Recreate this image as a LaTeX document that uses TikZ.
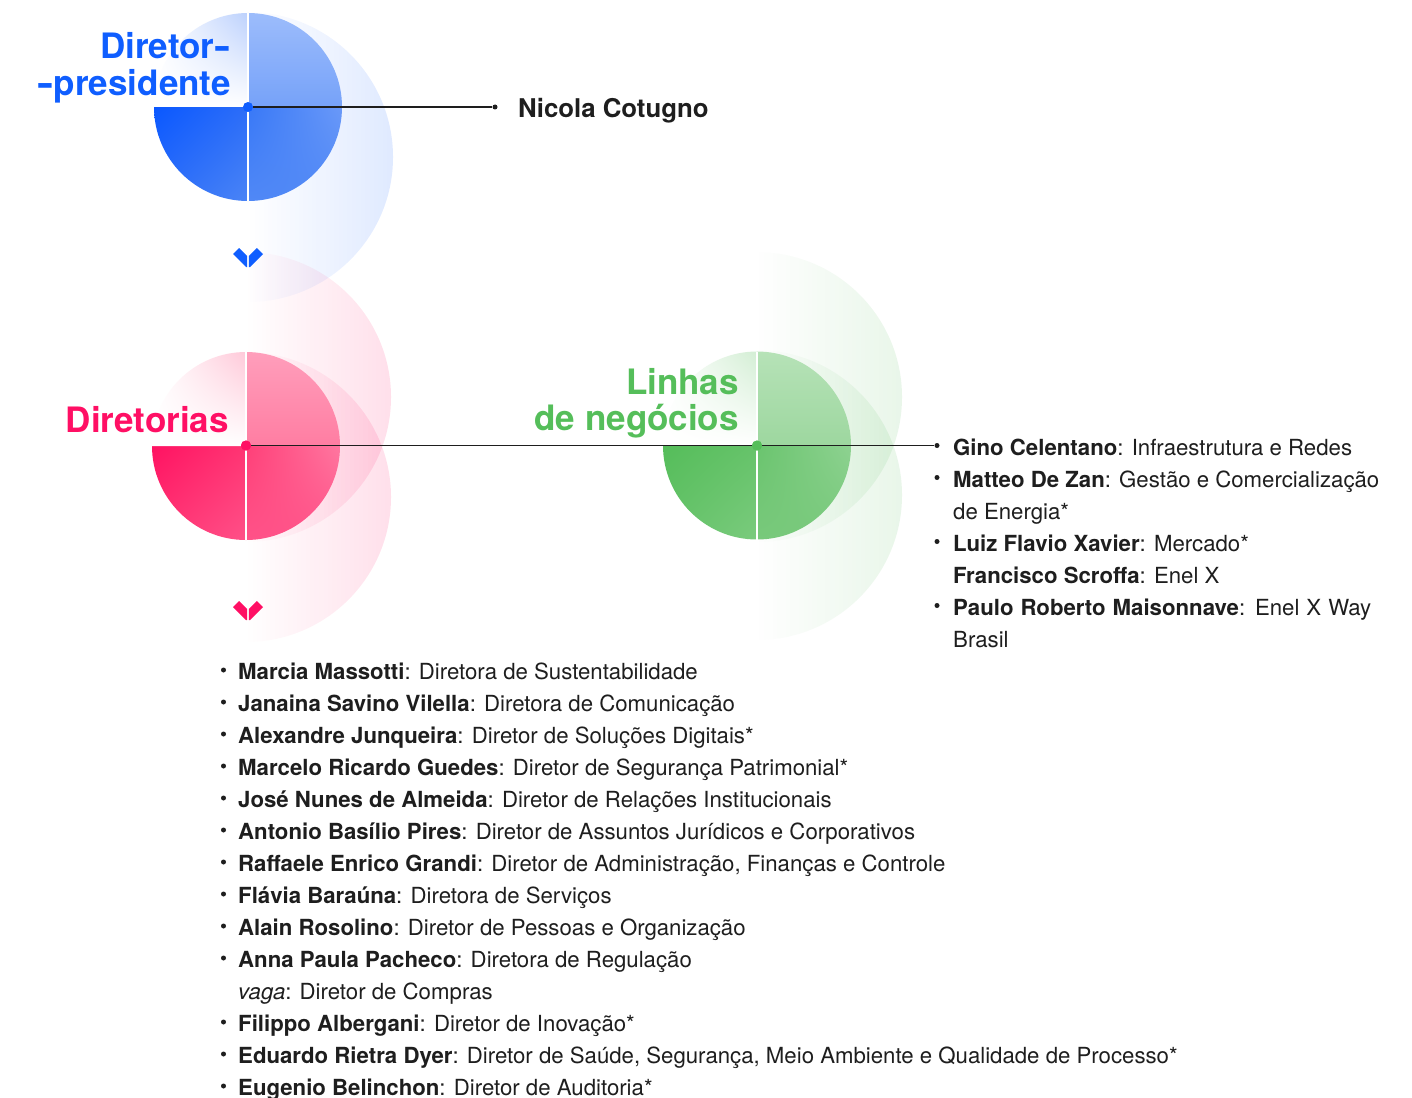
\documentclass[tikz,border=0pt]{standalone}
\usepackage{fontspec}
\setmainfont{TeX Gyre Heros}
\usetikzlibrary{fadings,shadings}
\definecolor{eblue}{HTML}{0F5EFF}
\definecolor{epink}{HTML}{FF0F64}
\definecolor{egreen}{HTML}{55BE5A}
\definecolor{txt}{HTML}{1E1E1E}
% blue disc
\definecolor{bBLa}{HTML}{0A58FF}\definecolor{bBLb}{HTML}{2C6DF8}\definecolor{bBLc}{HTML}{4A84F6}
\definecolor{bBRa}{HTML}{3878F7}\definecolor{bBRb}{HTML}{5088F6}\definecolor{bBRc}{HTML}{6A99F8}
\definecolor{bTRa}{HTML}{9CBCFB}\definecolor{bTRb}{HTML}{76A2F9}
\definecolor{bTL}{HTML}{BCD1FD}
% pink disc
\definecolor{pBLa}{HTML}{FF1262}\definecolor{pBLb}{HTML}{FF3573}\definecolor{pBLc}{HTML}{FF5088}
\definecolor{pBRa}{HTML}{FF3F78}\definecolor{pBRb}{HTML}{FF5288}\definecolor{pBRc}{HTML}{FF77A0}
\definecolor{pTRa}{HTML}{FF9EBB}\definecolor{pTRb}{HTML}{FF7DA2}
\definecolor{pTL}{HTML}{FFC9D9}
% green disc
\definecolor{gBLa}{HTML}{55BD5A}\definecolor{gBLb}{HTML}{66C36A}\definecolor{gBLc}{HTML}{7ACB7D}
\definecolor{gBRa}{HTML}{6AC46E}\definecolor{gBRb}{HTML}{78C97B}\definecolor{gBRc}{HTML}{8ED291}
\definecolor{gTRa}{HTML}{B6E2B7}\definecolor{gTRb}{HTML}{9DD79F}
\definecolor{gTL}{HTML}{D3EED4}

\newcommand\orgdisc[3]{%
  \shade[upper left=#3BLa, upper right=#3BLb, lower left=#3BLb, lower right=#3BLc]
    (#1,#2) -- ++(-94,0) arc[start angle=180,end angle=90,radius=94] -- cycle;
  \shade[upper left=#3BRa, upper right=#3BRc, lower left=#3BRb, lower right=#3BRb]
    (#1,#2) -- ++(0,94) arc[start angle=90,end angle=0,radius=94] -- cycle;
  \shade[upper left=#3TRa, upper right=#3TRa, lower left=#3TRb, lower right=#3TRb]
    (#1,#2) -- ++(94,0) arc[start angle=0,end angle=-90,radius=94] -- cycle;
  \shade[upper left=white, upper right=#3TL, lower left=white, lower right=white]
    (#1,#2) -- ++(0,-94) arc[start angle=-90,end angle=-180,radius=94] -- cycle;
  \draw[white, line width=1.6pt] (#1,#2-94) -- (#1,#2+94);
}
\newcommand\chevron[3]{%
  \fill[#3] (#1-15,#2-4) -- (#1-8.8,#2-10) -- (#1-0.8,#2-2) -- (#1-0.8,#2+9) -- (#1-2,#2+9) -- cycle;
  \fill[#3] (#1+15,#2-4) -- (#1+8.8,#2-10) -- (#1+0.8,#2-2) -- (#1+0.8,#2+9) -- (#1+2,#2+9) -- cycle;
}
\newcommand\wdash{\scalebox{1.4}[1]{-}}
\tikzset{
  faint/.style={fill=#1, fill opacity=0.13, path fading=west},
  cdot/.style={circle, fill=#1, inner sep=0pt, minimum size=10pt},
  enddot/.style={circle, fill=txt, inner sep=0pt, minimum size=5pt},
  conn/.style={draw=txt, line width=1.1pt},
  head/.style={inner sep=0pt, font=\fontsize{35}{35}\selectfont\bfseries},
  pname/.style={inner sep=0pt, anchor=base west, text=txt, font=\fontsize{25.8}{26}\selectfont\bfseries},
  item/.style={inner sep=0pt, anchor=base west, text=txt, font=\fontsize{22.2}{26}\selectfont},
}
\begin{document}
\begin{tikzpicture}[x=1pt,y=-1pt]
\useasboundingbox (0,0) rectangle (1412,1097);
\fill[white] (0,0) rectangle (1412,1097);

% faint half discs
\fill[faint=eblue] (248,12) arc[start angle=-90,end angle=90,radius=145] -- cycle;
\fill[faint=epink] (246,252) arc[start angle=-90,end angle=90,radius=145] -- cycle;
\fill[faint=epink] (246,352) arc[start angle=-90,end angle=90,radius=145] -- cycle;
\fill[faint=egreen] (757,252) arc[start angle=-90,end angle=90,radius=145] -- cycle;
\fill[faint=egreen] (757,350) arc[start angle=-90,end angle=90,radius=145] -- cycle;

% main discs
\orgdisc{248}{107}{b}
\orgdisc{246}{446}{p}
\orgdisc{757}{445.5}{g}

% chevrons
\chevron{248}{258}{eblue}
\chevron{248}{611}{epink}

% nodes
\node[cdot=eblue] (bdot) at (248,107) {};
\node[enddot] (bend) at (495,107) {};
\node[cdot=epink] (pdot) at (246,445.5) {};
\node[cdot=egreen] (gdot) at (757,445.5) {};
\node[enddot] (gend) at (937,445.5) {};
\draw[conn] (bdot) -- (bend);
\draw[conn] (pdot) -- (gdot) -- (gend);
\fill[epink] (246,445.5) circle[radius=5];
\fill[egreen] (757,445.5) circle[radius=5];

% headings
\node[head, text=eblue, anchor=base east] (h1a) at (231,59) {Diretor\wdash};
\node[head, text=eblue, anchor=base east] (h1b) at (231,96) {\wdash presidente};
\node[head, text=epink, anchor=base east] (h2) at (229,432) {Diretorias};
\node[head, text=egreen, anchor=base east] (h3a) at (739,394) {Linhas};
\node[head, text=egreen, anchor=base east] (h3b) at (739,430) {de negócios};
\node[pname] (pres) at (518,117.5) {Nicola Cotugno};

% right list
\node[item] (r1) at (953,455) {\textbf{Gino Celentano}: Infraestrutura e Redes};
\node[item] (r2) at (953,487) {\textbf{Matteo De Zan}: Gestão e Comercialização};
\node[item] (r3) at (953,519) {de Energia*};
\node[item] (r4) at (953,551) {\textbf{Luiz Flavio Xavier}: Mercado*};
\node[item] (r5) at (953,583) {\textbf{Francisco Scroffa}: Enel X};
\node[item] (r6) at (953,615) {\makebox[418pt][s]{\textbf{Paulo Roberto Maisonnave}: Enel X Way}};
\node[item] (r7) at (953,647) {Brasil};
\foreach \yy in {487,551,615} \fill[txt] (937,\yy-9.5) circle[radius=2.5];

% left list
\foreach \i/\t [count=\k from 0] in {
 1/{\textbf{Marcia Massotti}: Diretora de Sustentabilidade},
 1/{\textbf{Janaina Savino Vilella}: Diretora de Comunicação},
 1/{\textbf{Alexandre Junqueira}: Diretor de Soluções Digitais*},
 1/{\textbf{Marcelo Ricardo Guedes}: Diretor de Segurança Patrimonial*},
 1/{\textbf{José Nunes de Almeida}: Diretor de Relações Institucionais},
 1/{\textbf{Antonio Basílio Pires}: Diretor de Assuntos Jurídicos e Corporativos},
 1/{\textbf{Raffaele Enrico Grandi}: Diretor de Administração, Finanças e Controle},
 1/{\textbf{Flávia Baraúna}: Diretora de Serviços},
 1/{\textbf{Alain Rosolino}: Diretor de Pessoas e Organização},
 1/{\textbf{Anna Paula Pacheco}: Diretora de Regulação},
 0/{\textit{vaga}: Diretor de Compras},
 1/{\textbf{Filippo Albergani}: Diretor de Inovação*},
 1/{\textbf{Eduardo Rietra Dyer}: Diretor de Saúde, Segurança, Meio Ambiente e Qualidade de Processo*},
 1/{\textbf{Eugenio Belinchon}: Diretor de Auditoria*}} {
  \pgfmathsetmacro\yb{679+32*\k}
  \node[item] (l\k) at (238,\yb) {\t};
  \ifnum\i=1 \fill[txt] (223.5,\yb-9) circle[radius=2.5]; \fi
}
\end{tikzpicture}
\end{document}
